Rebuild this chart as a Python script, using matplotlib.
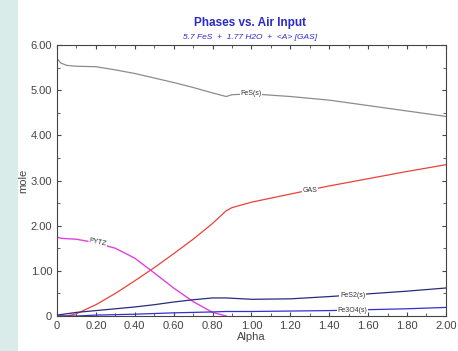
import numpy as np
import matplotlib
matplotlib.use("Agg")
import matplotlib.pyplot as plt
from matplotlib.ticker import MultipleLocator, FixedLocator
import matplotlib.patches as mpatches

# values (mole vs Alpha)
fes_x = [0.0, 0.02, 0.05, 0.1, 0.2, 0.3, 0.4, 0.5, 0.6, 0.7, 0.8, 0.87, 0.9, 1.0, 1.2, 1.4, 1.6, 1.8, 2.0]
fes_y = [5.70, 5.60, 5.55, 5.53, 5.52, 5.45, 5.37, 5.27, 5.17, 5.06, 4.94, 4.86, 4.90, 4.92, 4.86, 4.78, 4.66, 4.54, 4.42]

gas_x = [0.0, 0.05, 0.1, 0.2, 0.3, 0.4, 0.5, 0.6, 0.7, 0.8, 0.87, 0.9, 1.0, 1.2, 1.4, 1.6, 1.8, 2.0]
gas_y = [0.0, 0.0, 0.05, 0.25, 0.5, 0.78, 1.07, 1.38, 1.70, 2.05, 2.33, 2.40, 2.52, 2.70, 2.88, 3.04, 3.20, 3.35]

pytz_x = [0.0, 0.02, 0.1, 0.2, 0.3, 0.4, 0.48, 0.6, 0.7, 0.8, 0.87]
pytz_y = [1.75, 1.72, 1.70, 1.62, 1.50, 1.28, 1.02, 0.62, 0.32, 0.08, 0.0]

fes2_x = [0.0, 0.1, 0.2, 0.3, 0.4, 0.5, 0.6, 0.7, 0.8, 0.87, 1.0, 1.2, 1.4, 1.6, 1.8, 2.0]
fes2_y = [0.02, 0.08, 0.12, 0.16, 0.2, 0.25, 0.31, 0.36, 0.40, 0.40, 0.37, 0.38, 0.43, 0.49, 0.55, 0.62]

fe3o4_x = [0.0, 0.1, 0.2, 0.4, 0.6, 0.8, 0.87, 1.0, 1.2, 1.4, 1.6, 1.8, 2.0]
fe3o4_y = [0.0, 0.0, 0.02, 0.04, 0.07, 0.09, 0.10, 0.10, 0.11, 0.12, 0.14, 0.16, 0.19]

x_ticks = [0, 0.2, 0.4, 0.6, 0.8, 1.0, 1.2, 1.4, 1.6, 1.8, 2.0]
x_labels = ["0", "0.20", "0.40", "0.60", "0.80", "1.00", "1.20", "1.40", "1.60", "1.80", "2.00"]
y_ticks = [0, 1, 2, 3, 4, 5, 6]
y_labels = ["0", "1.00", "2.00", "3.00", "4.00", "5.00", "6.00"]

plt.rcParams['font.family'] = ['Liberation Sans', 'DejaVu Sans']

fig = plt.figure(figsize=(4.58, 3.51), dpi=100)
fig.patch.set_facecolor("white")
# pale teal strip on the left edge
fig.patches.append(mpatches.Rectangle((0, 0), 0.04, 1, transform=fig.transFigure,
                                      facecolor="#d9ecea", edgecolor="none", zorder=0))

ax = fig.add_axes([0.1245, 0.0997, 0.849, 0.772])

ax.plot(fes_x, fes_y, color="#8c8c8c", lw=0.9)
ax.plot(gas_x, gas_y, color="#e8413a", lw=0.9)
ax.plot(pytz_x, pytz_y, color="#e040e0", lw=1.0)
ax.plot(fes2_x, fes2_y, color="#2a2a80", lw=0.9)
ax.plot(fe3o4_x, fe3o4_y, color="#3030d8", lw=0.9)

lab = dict(fontsize=5, color="#333333", ha="center", va="center",
           bbox=dict(facecolor="white", edgecolor="none", pad=0.3))
ax.text(1.0, 4.92, "FeS(s)", **lab)
ax.text(1.3, 2.79, "GAS", **lab)
ax.text(0.21, 1.62, "PYTZ", rotation=-12, **lab)
ax.text(1.52, 0.46, "FeS2(s)", **lab)
ax.text(1.52, 0.13, "Fe3O4(s)", **lab)

ax.set_xlim(0, 2.0)
ax.set_ylim(0, 6.0)
ax.xaxis.set_major_locator(FixedLocator(x_ticks))
ax.set_xticklabels(x_labels)
ax.yaxis.set_major_locator(FixedLocator(y_ticks))
ax.set_yticklabels(y_labels)
ax.xaxis.set_minor_locator(MultipleLocator(0.1))
ax.yaxis.set_minor_locator(MultipleLocator(0.5))
ax.tick_params(which="both", direction="in", top=True, right=True,
               labelsize=8, labelcolor="#444444", color="#444444")
ax.tick_params(which="major", length=3)
ax.tick_params(which="minor", length=2)
for s in ax.spines.values():
    s.set_color("#444444")
    s.set_linewidth(0.8)

ax.set_xlabel("Alpha", fontsize=8, color="#444444", labelpad=1)
ax.set_ylabel("mole", fontsize=8, color="#444444", labelpad=2)

fig.text(0.545, 0.935, "Phases vs. Air Input", ha="center", va="center",
         fontsize=8.5, fontweight="bold", color="#2a2ac8")
fig.text(0.545, 0.893, "5.7 FeS  +  1.77 H2O  +  <A> [GAS]", ha="center", va="center",
         fontsize=6, style="italic", color="#2a2ac8")

fig.savefig("out.png", dpi=100)
